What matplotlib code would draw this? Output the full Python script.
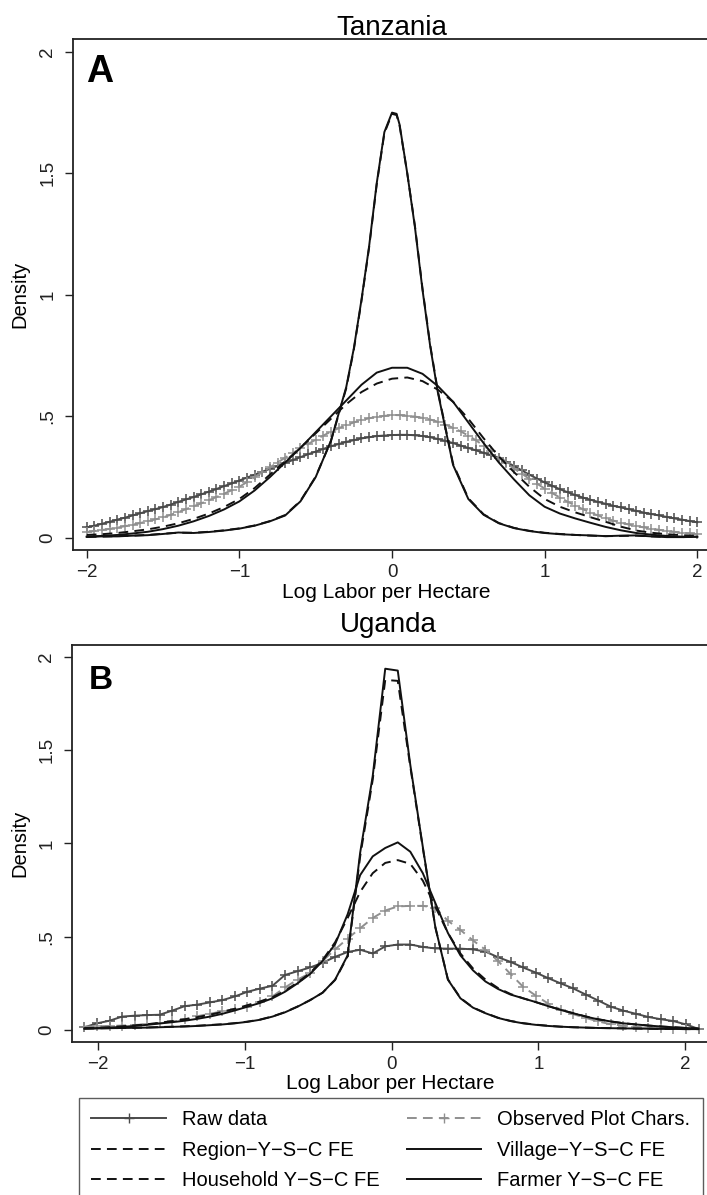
import numpy as np
import matplotlib

matplotlib.use("Agg")
import matplotlib.pyplot as plt
from matplotlib.lines import Line2D

plt.rcParams["font.family"] = ["Liberation Sans", "DejaVu Sans"]

# ---------------- Panel A: Tanzania ----------------
# raw / observed: grid of 0.05 from -2 to 2
xa_fine = np.round(np.arange(-2.0, 2.0001, 0.05), 2)
raw_a = [
    0.043, 0.050, 0.058, 0.066, 0.075, 0.083, 0.092, 0.101, 0.110, 0.118,
    0.127, 0.137, 0.148, 0.158, 0.168, 0.179, 0.190, 0.201, 0.213, 0.224,
    0.236, 0.248, 0.260, 0.272, 0.284, 0.296, 0.308, 0.320, 0.332, 0.344,
    0.355, 0.366, 0.377, 0.386, 0.395, 0.402, 0.409, 0.414, 0.419, 0.421,
    0.423, 0.424, 0.424, 0.422, 0.419, 0.414, 0.407, 0.399, 0.390, 0.380,
    0.370, 0.360, 0.350, 0.340, 0.330, 0.313, 0.295, 0.278, 0.260, 0.244,
    0.228, 0.214, 0.200, 0.188, 0.176, 0.166, 0.157, 0.148, 0.140, 0.132,
    0.125, 0.118, 0.111, 0.104, 0.098, 0.092, 0.086, 0.080, 0.075, 0.069,
    0.064,
]
obs_a = [
    0.024, 0.028, 0.032, 0.037, 0.042, 0.048, 0.054, 0.061, 0.068, 0.076,
    0.084, 0.095, 0.106, 0.118, 0.130, 0.142, 0.155, 0.168, 0.182, 0.196,
    0.210, 0.230, 0.250, 0.270, 0.290, 0.310, 0.330, 0.349, 0.368, 0.386,
    0.404, 0.421, 0.437, 0.451, 0.464, 0.475, 0.485, 0.492, 0.498, 0.502,
    0.505, 0.505, 0.503, 0.499, 0.494, 0.487, 0.478, 0.466, 0.453, 0.438,
    0.421, 0.401, 0.380, 0.356, 0.330, 0.307, 0.285, 0.264, 0.243, 0.223,
    0.203, 0.184, 0.166, 0.149, 0.133, 0.118, 0.104, 0.092, 0.080, 0.071,
    0.062, 0.055, 0.048, 0.043, 0.038, 0.033, 0.029, 0.025, 0.021, 0.018,
    0.015,
]

# region / village: grid of 0.1
xa_mid = np.round(np.arange(-2.0, 2.0001, 0.1), 1)
region_a = [
    0.012, 0.015, 0.020, 0.027, 0.035, 0.046, 0.060, 0.078, 0.100, 0.127,
    0.160, 0.205, 0.260, 0.315, 0.370, 0.430, 0.490, 0.550, 0.600, 0.635,
    0.655, 0.660, 0.645, 0.610, 0.560, 0.490, 0.410, 0.335, 0.270, 0.210,
    0.160, 0.128, 0.105, 0.085, 0.066, 0.046, 0.030, 0.021, 0.015, 0.011,
    0.008,
]
village_a = [
    0.005, 0.008, 0.012, 0.018, 0.025, 0.036, 0.050, 0.068, 0.090, 0.117,
    0.150, 0.195, 0.250, 0.310, 0.370, 0.435, 0.500, 0.565, 0.630, 0.680,
    0.700, 0.700, 0.675, 0.625, 0.560, 0.475, 0.390, 0.310, 0.240, 0.175,
    0.128, 0.100, 0.080, 0.062, 0.045, 0.031, 0.020, 0.013, 0.008, 0.005,
    0.004,
]

# household / farmer: narrow peak
xa_peak = [
    -2.0, -1.9, -1.8, -1.7, -1.6, -1.5, -1.4, -1.3, -1.2, -1.1, -1.0, -0.9,
    -0.8, -0.7, -0.6, -0.5, -0.4, -0.3, -0.25, -0.2, -0.15, -0.1, -0.05, 0.0,
    0.03, 0.05, 0.1, 0.15, 0.2, 0.25, 0.3, 0.4, 0.5, 0.6, 0.7, 0.8, 0.9, 1.0,
    1.1, 1.2, 1.3, 1.4, 1.5, 1.6, 1.7, 1.8, 1.9, 2.0,
]
household_a = [
    0.004, 0.005, 0.007, 0.009, 0.012, 0.017, 0.021, 0.021, 0.025, 0.031,
    0.039, 0.051, 0.069, 0.094, 0.152, 0.252, 0.398, 0.615, 0.775, 0.975,
    1.195, 1.455, 1.665, 1.745, 1.740, 1.695, 1.500, 1.285, 1.025, 0.795,
    0.605, 0.305, 0.163, 0.097, 0.061, 0.041, 0.029, 0.021, 0.016, 0.012,
    0.009, 0.007, 0.008, 0.009, 0.006, 0.004, 0.003, 0.004,
]
farmer_a = [
    0.004, 0.006, 0.006, 0.009, 0.011, 0.016, 0.022, 0.020, 0.024, 0.030,
    0.038, 0.050, 0.068, 0.092, 0.150, 0.250, 0.400, 0.620, 0.780, 0.980,
    1.200, 1.460, 1.670, 1.750, 1.745, 1.700, 1.500, 1.280, 1.020, 0.790,
    0.600, 0.300, 0.160, 0.095, 0.060, 0.040, 0.028, 0.020, 0.015, 0.012,
    0.010, 0.007, 0.009, 0.010, 0.006, 0.003, 0.003, 0.005,
]

# ---------------- Panel B: Uganda (50-point grid) ----------------
xb = np.linspace(-2.09, 2.09, 50)
raw_b = [
    0.015, 0.036, 0.050, 0.072, 0.077, 0.080, 0.082, 0.104, 0.128, 0.136,
    0.148, 0.160, 0.180, 0.205, 0.222, 0.237, 0.295, 0.315, 0.335, 0.360,
    0.392, 0.418, 0.430, 0.410, 0.448, 0.458, 0.458, 0.445, 0.437, 0.436,
    0.436, 0.432, 0.420, 0.390, 0.365, 0.335, 0.308, 0.278, 0.250, 0.223,
    0.190, 0.158, 0.125, 0.104, 0.087, 0.070, 0.058, 0.048, 0.030, 0.006,
]
obs_b = [
    0.018, 0.020, 0.022, 0.024, 0.027, 0.031, 0.037, 0.046, 0.057, 0.074,
    0.087, 0.100, 0.112, 0.126, 0.148, 0.180, 0.228, 0.270, 0.305, 0.370,
    0.432, 0.490, 0.545, 0.600, 0.640, 0.662, 0.665, 0.665, 0.655, 0.585,
    0.536, 0.480, 0.430, 0.370, 0.300, 0.232, 0.185, 0.142, 0.110, 0.085,
    0.065, 0.046, 0.031, 0.024, 0.017, 0.012, 0.009, 0.007, 0.006, 0.005,
]
region_b = [
    0.010, 0.012, 0.015, 0.020, 0.025, 0.031, 0.039, 0.048, 0.058, 0.069,
    0.082, 0.097, 0.114, 0.133, 0.153, 0.176, 0.210, 0.255, 0.305, 0.375,
    0.470, 0.600, 0.740, 0.840, 0.895, 0.910, 0.890, 0.800, 0.660, 0.520,
    0.410, 0.330, 0.270, 0.225, 0.193, 0.170, 0.150, 0.129, 0.108, 0.090,
    0.073, 0.058, 0.046, 0.037, 0.030, 0.024, 0.019, 0.015, 0.011, 0.008,
]
village_b = [
    0.008, 0.010, 0.013, 0.017, 0.022, 0.028, 0.035, 0.042, 0.050, 0.060,
    0.072, 0.087, 0.105, 0.125, 0.145, 0.170, 0.205, 0.250, 0.300, 0.370,
    0.460, 0.620, 0.830, 0.930, 0.975, 1.005, 0.955, 0.840, 0.680, 0.520,
    0.400, 0.320, 0.260, 0.220, 0.190, 0.170, 0.150, 0.128, 0.108, 0.090,
    0.072, 0.057, 0.046, 0.036, 0.030, 0.024, 0.019, 0.015, 0.011, 0.008,
]
household_b = [
    0.008, 0.009, 0.010, 0.011, 0.012, 0.014, 0.016, 0.018, 0.020, 0.023,
    0.027, 0.031, 0.037, 0.045, 0.056, 0.073, 0.096, 0.126, 0.160, 0.200,
    0.268, 0.395, 0.930, 1.340, 1.875, 1.870, 1.410, 0.975, 0.550, 0.272,
    0.172, 0.121, 0.091, 0.066, 0.049, 0.037, 0.029, 0.023, 0.018, 0.015,
    0.013, 0.011, 0.010, 0.009, 0.008, 0.007, 0.006, 0.006, 0.005, 0.005,
]
farmer_b = [
    0.008, 0.009, 0.010, 0.011, 0.012, 0.013, 0.015, 0.017, 0.019, 0.022,
    0.026, 0.030, 0.036, 0.044, 0.055, 0.072, 0.095, 0.125, 0.160, 0.200,
    0.270, 0.400, 0.950, 1.360, 1.935, 1.925, 1.420, 0.980, 0.550, 0.270,
    0.170, 0.120, 0.090, 0.065, 0.048, 0.036, 0.028, 0.022, 0.018, 0.015,
    0.013, 0.011, 0.010, 0.009, 0.008, 0.007, 0.006, 0.006, 0.005, 0.005,
]

legend_labels = [
    "Raw data", "Observed Plot Chars.",
    "Region\u2212Y\u2212S\u2212C FE", "Village\u2212Y\u2212S\u2212C FE",
    "Household Y\u2212S\u2212C FE", "Farmer Y\u2212S\u2212C FE",
]

y_ticks = [0, 0.5, 1, 1.5, 2]
y_ticklabels = ["0", ".5", "1", "1.5", "2"]
x_ticks = [-2, -1, 0, 1, 2]

RAW_COL = "#4a4a4a"
OBS_COL = "#8f8f8f"
BLK = "#111111"
LW = 1.4
DASH = (5, 3.2)


def draw_panel(ax, xf, raw, obs, xr, region, xv, village, xh, household, farmer, ms):
    ax.plot(xf, raw, color=RAW_COL, lw=LW, marker="+", ms=ms, mew=1.1)
    ax.plot(xf, obs, color=OBS_COL, lw=LW, ls=(0, DASH), marker="+", ms=ms, mew=1.1)
    ax.plot(xr, region, color=BLK, lw=LW, ls=(0, DASH))
    ax.plot(xv, village, color=BLK, lw=LW)
    ax.plot(xh, household, color=BLK, lw=LW, ls=(0, DASH))
    ax.plot(xh, farmer, color=BLK, lw=LW)

    ax.set_xticks(x_ticks)
    ax.set_yticks(y_ticks)
    ax.set_yticklabels(y_ticklabels, rotation=90, va="center")
    ax.tick_params(direction="out", length=6, width=1.0, labelsize=13.5,
                   colors="#222222")
    ax.tick_params(axis="x", pad=4)
    ax.tick_params(axis="y", pad=6)
    for s in ax.spines.values():
        s.set_linewidth(1.3)
        s.set_color("#222222")


fig = plt.figure(figsize=(7.07, 11.95), dpi=100, facecolor="white")
W, H = 707.0, 1195.0

axA = fig.add_axes([73 / W, 1 - 550 / H, (711 - 73) / W, (550 - 39) / H])
draw_panel(axA, xa_fine, raw_a, obs_a, xa_mid, region_a, xa_mid, village_a,
           xa_peak, household_a, farmer_a, ms=7)
axA.set_xlim(-2.09, 2.09)
axA.set_ylim(-0.05, 2.053)
axA.text(0.02, 0.916, "A", transform=axA.transAxes, fontsize=27,
         fontweight="bold", va="baseline", ha="left")

axB = fig.add_axes([72 / W, 1 - 1042 / H, (711 - 72) / W, (1042 - 645) / H])
draw_panel(axB, xb, raw_b, obs_b, xb, region_b, xb, village_b,
           xb, household_b, farmer_b, ms=7.5)
axB.set_xlim(-2.175, 2.175)
axB.set_ylim(-0.064, 2.062)
axB.text(0.026, 0.889, "B", transform=axB.transAxes, fontsize=24,
         fontweight="bold", va="baseline", ha="left")

# titles and axis labels
fig.text(392 / W, 1 - 35 / H, "Tanzania", fontsize=20, ha="center", va="baseline")
fig.text(388 / W, 1 - 632 / H, "Uganda", fontsize=20, ha="center", va="baseline")
fig.text(386 / W, 1 - 598 / H, "Log Labor per Hectare", fontsize=15,
         ha="center", va="baseline")
fig.text(390 / W, 1 - 1089 / H, "Log Labor per Hectare", fontsize=15,
         ha="center", va="baseline")
fig.text(20 / W, 1 - 294 / H, "Density", fontsize=14.5, rotation=90,
         ha="center", va="center")
fig.text(20 / W, 1 - 843 / H, "Density", fontsize=14.5, rotation=90,
         ha="center", va="center")

# legend
handles = [
    Line2D([], [], color=RAW_COL, lw=LW, marker="+", ms=7, mew=1.0),
    Line2D([], [], color=OBS_COL, lw=LW, ls=(0, DASH), marker="+", ms=7, mew=1.0),
    Line2D([], [], color=BLK, lw=LW, ls=(0, DASH)),
    Line2D([], [], color=BLK, lw=LW),
    Line2D([], [], color=BLK, lw=LW, ls=(0, DASH)),
    Line2D([], [], color=BLK, lw=LW),
]
# reorder so that ncol=2 fills rows left->right
order = [0, 2, 4, 1, 3, 5]
leg = fig.legend(
    [handles[i] for i in order], [legend_labels[i] for i in order],
    loc="upper left",
    bbox_to_anchor=(79 / W, 0, (703 - 79) / W, 1 - 1098 / H),
    mode="expand", ncol=2, numpoints=1, fontsize=14.5,
    handlelength=3.7, handletextpad=0.8, labelspacing=0.55,
    borderpad=0.62, borderaxespad=0, fancybox=False, frameon=True,
)
leg.get_frame().set_edgecolor("#333333")
leg.get_frame().set_linewidth(1.0)

fig.savefig("out.png", dpi=100, facecolor="white")
